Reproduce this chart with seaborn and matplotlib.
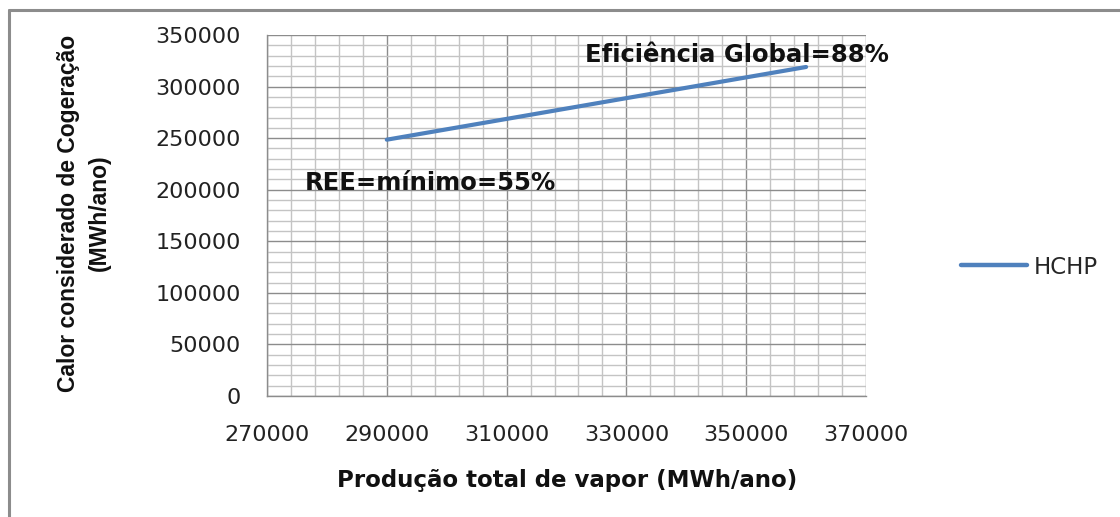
import matplotlib
matplotlib.use("Agg")
import matplotlib.pyplot as plt
from matplotlib.lines import Line2D
import numpy as np
import pandas as pd
import seaborn as sns

# Heat considered for cogeneration vs. total steam production
steam_production = [290000, 360000]
chp_heat = [248500, 319000]
series_name = "HCHP"

x_ticks = [270000, 290000, 310000, 330000, 350000, 370000]
y_ticks = [0, 50000, 100000, 150000, 200000, 250000, 300000, 350000]

x_label = "Produção total de vapor (MWh/ano)"
y_label = "Calor considerado de Cogeração\n(MWh/ano)"
note_top = "Eficiência Global=88%"
note_bottom = "REE=mínimo=55%"

df = pd.DataFrame({"x": steam_production, "y": chp_heat, "serie": series_name})

sns.set_style("white")
plt.rcParams["font.family"] = ["DejaVu Sans"]

W, H = 1120, 517
fig = plt.figure(figsize=(W / 100, H / 100), dpi=100)
ax = fig.add_axes([267 / W, 1 - 396 / H, (866 - 267) / W, (396 - 35) / H])

sns.lineplot(data=df, x="x", y="y", hue="serie", palette=["#4F81BD"],
             linewidth=3.0, ax=ax, legend=False, solid_capstyle="round")

ax.set_xlim(x_ticks[0], x_ticks[-1])
ax.set_ylim(y_ticks[0], y_ticks[-1])
ax.set_xticks(x_ticks)
ax.set_yticks(y_ticks)
ax.set_xticklabels([str(v) for v in x_ticks])
ax.set_yticklabels([str(v) for v in y_ticks])
# five subdivisions between major gridlines
ax.set_xticks(np.linspace(x_ticks[0], x_ticks[-1], 5 * (len(x_ticks) - 1) + 1), minor=True)
ax.set_yticks(np.linspace(y_ticks[0], y_ticks[-1], 5 * (len(y_ticks) - 1) + 1), minor=True)
ax.grid(which="major", color="#8c8c8c", linewidth=1.0)
ax.grid(which="minor", color="#c4c4c4", linewidth=1.0)
ax.set_axisbelow(True)

for s in ["top", "right"]:
    ax.spines[s].set_visible(False)
for s in ["left", "bottom"]:
    ax.spines[s].set_color("#8c8c8c")
    ax.spines[s].set_linewidth(1.0)

ax.tick_params(axis="both", which="major", direction="out", color="#8c8c8c",
               labelcolor="#222222", labelsize=16)
ax.tick_params(axis="y", which="major", length=6, pad=13)
ax.tick_params(axis="x", which="major", length=5, pad=16)
ax.tick_params(which="minor", length=0)

ax.set_xlabel("")
ax.set_ylabel("")
fig.text(567 / W, 1 - 480 / H, x_label, ha="center", va="center",
         fontsize=16.5, fontweight="bold", color="#111111")
fig.text(84 / W, 1 - 213 / H, y_label, ha="center", va="center", rotation=90,
         fontsize=16.5, fontweight="bold", color="#111111",
         family=["Liberation Sans", "DejaVu Sans"], linespacing=1.45)

ax.annotate(note_top, xy=(585 / W, 1 - 55 / H), xycoords="figure fraction",
            ha="left", va="center", fontsize=17.5, fontweight="bold", color="#111111")
ax.annotate(note_bottom, xy=(305 / W, 1 - 183 / H), xycoords="figure fraction",
            ha="left", va="center", fontsize=17.5, fontweight="bold", color="#111111")

# legend
fig.legend(handles=[Line2D([], [], color="#4F81BD", linewidth=3.2, solid_capstyle="round")],
           labels=[series_name], loc="center left",
           bbox_to_anchor=(940 / W, 1 - 267 / H), frameon=False,
           fontsize=16.5, handlelength=2.9, handletextpad=0.3)

# outer frame (left and top edges)
frame_kw = dict(transform=fig.transFigure, color="#8c8c8c", linewidth=2.2)
fig.lines.append(Line2D([9 / W, 9 / W], [0, 1 - 10 / H], **frame_kw))
fig.lines.append(Line2D([9 / W, 1], [1 - 10 / H, 1 - 10 / H], **frame_kw))

fig.savefig("out.png", dpi=100)
